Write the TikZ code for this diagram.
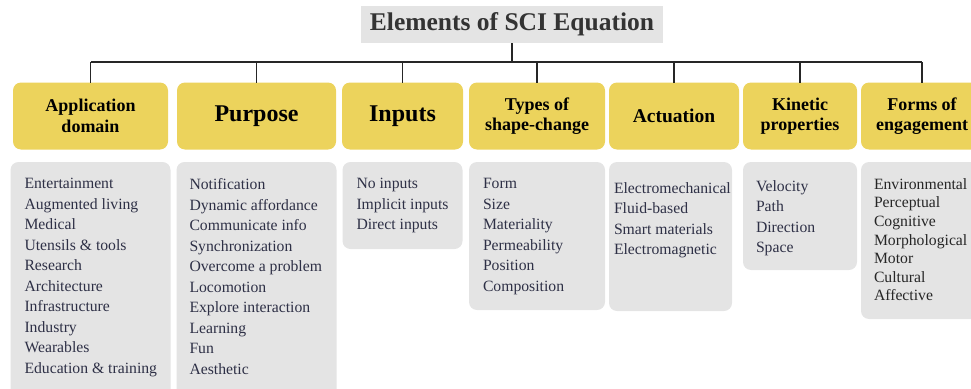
\documentclass[tikz,border=0pt]{standalone}
\usepackage{fontspec}
\setmainfont{Liberation Serif}
\usetikzlibrary{positioning}
\definecolor{hdryellow}{RGB}{236,211,92}
\definecolor{listgray}{RGB}{228,228,228}
\definecolor{titleink}{RGB}{51,51,51}
\definecolor{listink}{RGB}{46,48,70}

\begin{document}
\begin{tikzpicture}[
    x=1pt, y=-1pt,
    heading/.style={
        fill=hdryellow,
        rounded corners=8pt,
        align=center,
        inner sep=0pt,
        outer sep=0pt,
        minimum height=67pt,
        font=\fontsize{18}{20.5}\selectfont\bfseries
    },
    bigheading/.style={
        heading,
        font=\fontsize{24}{28}\selectfont\bfseries
    },
    listbox/.style={
        fill=listgray,
        rounded corners=8pt,
        inner sep=0pt,
        outer sep=0pt
    },
    listtext/.style={
        align=left,
        inner sep=0pt,
        outer sep=0pt,
        text=listink,
        font=\fontsize{15.7}{20.5}\selectfont
    },
    link/.style={
        draw=black!85,
        line width=1.4pt
    }
]
\path[use as bounding box, clip] (0,0) rectangle (971,388);

% Title
\node[fill=listgray, text=titleink, minimum width=302pt, minimum height=37pt, inner sep=0pt, outer sep=0pt,
    font=\fontsize{25.5}{28}\selectfont\bfseries] (title) at (512,24.5) {Elements of SCI Equation};

% Headings
\node[heading, minimum width=155pt] (app) at (90.5,116) {Application\\domain};
\node[bigheading, minimum width=159pt, right=9pt of app] (purpose) {Purpose};
\node[bigheading, minimum width=121pt, right=6pt of purpose] (inputs) {Inputs};
\node[heading, minimum width=136pt, right=6pt of inputs] (types) {Types of\\shape-change};
\node[heading, minimum width=130pt, right=4pt of types, font=\fontsize{19.5}{22}\selectfont\bfseries] (actuation) {Actuation};
\node[heading, minimum width=114pt, right=4pt of actuation] (kinetic) {Kinetic\\properties};
\node[heading, minimum width=122pt, right=4pt of kinetic] (forms) {Forms of\\engagement};

% Lists
\node[listbox, minimum width=160pt, minimum height=240pt, below=12.5pt of app] (appBox) {};
\node[listtext, below right=16.5pt and 14pt of appBox.north west] (appList) {
    Entertainment\\Augmented living\\Medical\\Utensils \& tools\\Research\\Architecture\\
    Infrastructure\\Industry\\Wearables\\Education \& training
};

\node[listbox, minimum width=160pt, minimum height=240pt, below=12.5pt of purpose] (purposeBox) {};
\node[listtext, below right=16.5pt and 13pt of purposeBox.north west] (purposeList) {
    Notification\\Dynamic affordance\\Communicate info\\Synchronization\\Overcome a problem\\
    Locomotion\\Explore interaction\\Learning\\Fun\\Aesthetic
};

\node[listbox, minimum width=120pt, minimum height=87pt, below=12.5pt of inputs] (inputsBox) {};
\node[listtext, below right=16.5pt and 14pt of inputsBox.north west] (inputsList) {
    No inputs\\Implicit inputs\\Direct inputs
};

\node[listbox, minimum width=136pt, minimum height=148pt, below=12.5pt of types] (typesBox) {};
\node[listtext, below right=16.5pt and 14pt of typesBox.north west] (typesList) {
    Form\\Size\\Materiality\\Permeability\\Position\\Composition
};

\node[listbox, minimum width=123pt, minimum height=149pt, below right=12.5pt and 0pt of actuation.south west] (actuationBox) {};
\node[listtext, below right=20.5pt and 5pt of actuationBox.north west] (actuationList) {
    Electromechanical\\Fluid-based\\Smart materials\\Electromagnetic
};

\node[listbox, minimum width=114pt, minimum height=108pt, below=12.5pt of kinetic] (kineticBox) {};
\node[listtext, below right=18.5pt and 13pt of kineticBox.north west] (kineticList) {
    Velocity\\Path\\Direction\\Space
};

\node[listbox, minimum width=122pt, minimum height=157pt, below=12.5pt of forms] (formsBox) {};
\node[listtext, text=black!85, font=\fontsize{15.7}{18.6}\selectfont,
    below right=16.5pt and 13pt of formsBox.north west] (formsList) {
    Environmental\\Perceptual\\Cognitive\\Morphological\\Motor\\Cultural\\Affective
};

% Connections
\coordinate (bus) at (512,62);
\draw[link] (title.south) -- (title.south |- bus);
\draw[link] (app.north |- bus) -- (forms.north |- bus);

\draw[link] (app.north |- bus) -- (app.north);
\draw[link] (purpose.north |- bus) -- (purpose.north);
\draw[link] (inputs.north |- bus) -- (inputs.north);
\draw[link] (types.north |- bus) -- (types.north);
\draw[link] (actuation.north |- bus) -- (actuation.north);
\draw[link] (kinetic.north |- bus) -- (kinetic.north);
\draw[link] (forms.north |- bus) -- (forms.north);

\end{tikzpicture}
\end{document}
